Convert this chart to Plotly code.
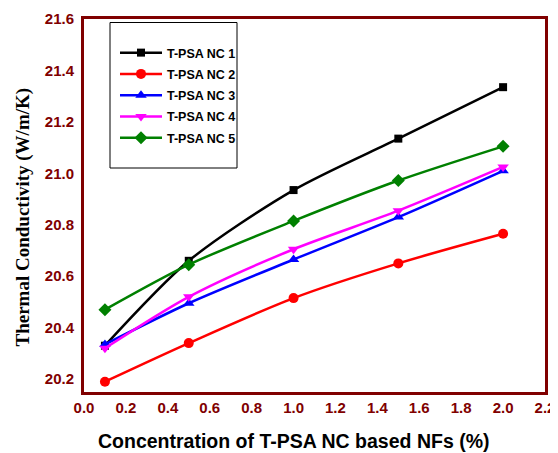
import plotly.graph_objects as go

conc = [0.1, 0.5, 1.0, 1.5, 2.0]
names = ["T-PSA NC 1", "T-PSA NC 2", "T-PSA NC 3", "T-PSA NC 4", "T-PSA NC 5"]
nc1 = [20.33, 20.66, 20.935, 21.135, 21.335]
nc2 = [20.19, 20.34, 20.515, 20.65, 20.765]
nc3 = [20.335, 20.495, 20.665, 20.83, 21.01]
nc4 = [20.32, 20.52, 20.705, 20.855, 21.025]
nc5 = [20.47, 20.645, 20.815, 20.972, 21.105]
series = [nc1, nc2, nc3, nc4, nc5]
colors = ["#000000", "#ff0000", "#0000ff", "#ff00ff", "#008000"]
symbols = ["square", "circle", "triangle-up", "triangle-down", "diamond"]
msizes = [8, 10, 10, 10, 10]
x_ticks = [0.0, 0.2, 0.4, 0.6, 0.8, 1.0, 1.2, 1.4, 1.6, 1.8, 2.0, 2.2]
y_ticks = [20.2, 20.4, 20.6, 20.8, 21.0, 21.2, 21.4, 21.6]
x_title = "Concentration of T-PSA NC based NFs (%)"
y_title = "Thermal Conductivity (W/m/K)"

fig = go.Figure()
for i, (nm, ys) in enumerate(zip(names, series)):
    fig.add_trace(go.Scatter(
        x=conc, y=ys, name=nm, mode="lines+markers",
        line=dict(color=colors[i], width=2.5, shape="spline", smoothing=0.8),
        marker=dict(symbol=symbols[i], size=msizes[i], color=colors[i]),
        legendgroup=f"g{i}",
    ))

# page body has an 8px margin, so the figure is drawn at (8, 8)
OFF = 8
W, H = 558 - OFF, 453 - OFF
L, R, T, B = 84 - OFF, 558 - 545, 19 - OFF, 453 - 392
pw, ph = W - L - R, H - T - B

def px(xs):
    return (xs - OFF - L) / pw

def py(ys):
    return (H - B - (ys - OFF)) / ph

axis_col = "#800000"
tickfont = dict(family="Liberation Sans, Arial", size=15, color=axis_col, weight="bold")

fig.update_layout(
    width=W, height=H,
    margin=dict(l=L, r=R, t=T, b=B, autoexpand=False),
    paper_bgcolor="white", plot_bgcolor="white",
    showlegend=True,
    legend=dict(
        x=px(115), y=py(38), xanchor="left", yanchor="top",
        bgcolor="rgba(0,0,0,0)", borderwidth=0,
        font=dict(family="Liberation Sans, Arial", size=12.5, color="black", weight="bold"),
        itemwidth=42, tracegroupgap=2,
    ),
    xaxis=dict(
        range=[0, 2.2], tickvals=x_ticks, ticktext=[f"{v:.1f}" for v in x_ticks],
        showgrid=False, zeroline=False, showline=True, mirror=True,
        linecolor=axis_col, linewidth=3, ticks="",
        tickfont=tickfont,
    ),
    yaxis=dict(
        range=[20.15, 21.6], tickvals=y_ticks, ticktext=[f"{v:.1f}" for v in y_ticks],
        showgrid=False, zeroline=False, showline=True, mirror=True,
        linecolor=axis_col, linewidth=3, ticks="", ticklabelstandoff=4,
        tickfont=tickfont,
    ),
    annotations=[
        dict(text=x_title, xref="paper", yref="paper", x=px(293), y=py(441),
             xanchor="center", yanchor="middle", showarrow=False,
             font=dict(family="Liberation Sans, Arial", size=19.5, color="black", weight="bold")),
        dict(text=y_title, xref="paper", yref="paper", x=px(22.5), y=py(217),
             xanchor="center", yanchor="middle", showarrow=False, textangle=-90,
             font=dict(family="Liberation Serif, Times New Roman", size=19, color="black", weight="bold")),
    ],
    shapes=[dict(type="rect", xref="paper", yref="paper",
                 x0=px(110), x1=px(237), y0=py(168), y1=py(22.5),
                 line=dict(color="black", width=1), fillcolor="rgba(0,0,0,0)")],
)

fig.write_html("out.html")
